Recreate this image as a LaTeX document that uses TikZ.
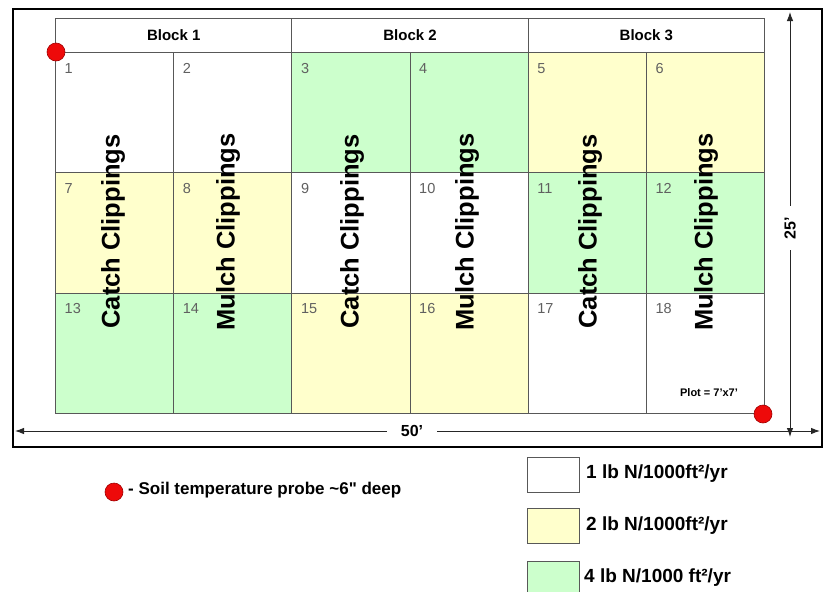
\documentclass[tikz,border=0pt]{standalone}
\usepackage{fontspec}
\setmainfont{Liberation Sans}
\usetikzlibrary{arrows.meta}

\definecolor{lowN}{HTML}{FFFFFF}
\definecolor{midN}{HTML}{FFFFCC}
\definecolor{highN}{HTML}{CCFFCC}
\definecolor{gridgray}{HTML}{585858}
\definecolor{numgray}{HTML}{606060}
\definecolor{probered}{HTML}{EE0A0A}
\definecolor{probedark}{HTML}{A00000}

\tikzset{
  plotcell/.style={draw=gridgray, line width=1.1pt, inner sep=0pt, anchor=north west,
                   minimum width=118.17pt, minimum height=120.33pt},
  blockhead/.style={draw=gridgray, fill=white, line width=1.1pt, inner sep=0pt, anchor=north west,
                    minimum width=236.33pt, minimum height=34pt,
                    font=\fontsize{15}{18}\selectfont\bfseries},
  plotnum/.style={anchor=north west, inner sep=0pt, text=numgray,
                  font=\fontsize{14.5}{17}\selectfont},
  treat/.style={rotate=90, inner sep=0pt, font=\fontsize{25.5}{30}\selectfont\bfseries},
  probe/.style={circle, fill=probered, draw=probedark, line width=0.6pt,
                minimum size=18pt, inner sep=0pt},
  dimline/.style={draw=black!85, line width=0.9pt,
                  {Latex[length=9pt,width=6.5pt]}-{Latex[length=9pt,width=6.5pt]}},
  dimlabel/.style={fill=white, inner sep=0pt, font=\fontsize{16}{19}\selectfont\bfseries},
  legbox/.style={draw=gridgray, line width=1.1pt, inner sep=0pt, anchor=north west,
                 minimum width=52pt, minimum height=35pt},
  legtext/.style={anchor=west, inner sep=0pt, font=\fontsize{19}{22}\selectfont\bfseries},
  frame/.style={draw=black, line width=2.6pt}
}

\begin{document}
\begin{tikzpicture}[x=1pt,y=-1pt]
\useasboundingbox (0,0) rectangle (823,592);
\fill[white] (0,0) rectangle (823,592);

% outer frame of the field
\draw[frame] (13,9) rectangle (822,447);

% the eighteen plots: number / column / row / nitrogen rate
\foreach \n/\col/\row/\clr in {
  1/0/0/lowN, 2/1/0/lowN, 3/2/0/highN, 4/3/0/highN, 5/4/0/midN, 6/5/0/midN,
  7/0/1/midN, 8/1/1/midN, 9/2/1/lowN, 10/3/1/lowN, 11/4/1/highN, 12/5/1/highN,
  13/0/2/highN, 14/1/2/highN, 15/2/2/midN, 16/3/2/midN, 17/4/2/lowN, 18/5/2/lowN}{
  \node[plotcell, fill=\clr] (p\n) at ({55+118.17*\col},{52+120.33*\row}) {};
  \node[plotnum] (n\n) at ([xshift=9.5pt,yshift=-11pt]p\n.north west) {\n};
}

% block headers
\node[blockhead] (b1) at (55,18) {Block 1};
\node[blockhead] (b2) at (291.33,18) {Block 2};
\node[blockhead] (b3) at (527.67,18) {Block 3};

% clipping treatments, running across the three rows
\node[treat] (t1) at (113,231.5) {Catch Clippings};
\node[treat] (t2) at (228,232) {Mulch Clippings};
\node[treat] (t3) at (352,231.5) {Catch Clippings};
\node[treat] (t4) at (467,232) {Mulch Clippings};
\node[treat] (t5) at (590,231.5) {Catch Clippings};
\node[treat] (t6) at (706,232) {Mulch Clippings};

% plot size note
\node[inner sep=0pt, font=\fontsize{11}{13}\selectfont\bfseries] (plotsize) at (709,393) {Plot = 7'x7'};

% soil temperature probes
\node[probe] (probeA) at (56,52) {};
\node[probe] (probeB) at (763,414) {};

% overall dimensions
\coordinate (wL) at (15,431);
\coordinate (wR) at (820,431);
\draw[dimline] (wL) -- (wR);
\node[dimlabel, minimum width=50pt, minimum height=16pt] (wlab) at (412,431) {50'};

\coordinate (hT) at (790,12);
\coordinate (hB) at (790,437);
\draw[dimline] (hT) -- (hB);
\node[dimlabel, rotate=90, minimum width=44pt, minimum height=16pt] (hlab) at (790,228) {25'};

% legend
\node[probe] (probeKey) at (114,492) {};
\node[anchor=west, inner sep=0pt, font=\fontsize{17}{20}\selectfont\bfseries] (probeText)
  at (128,490) {- Soil temperature probe \textasciitilde6\textquotedbl{} deep};

\node[legbox, fill=lowN] (leg1) at (527,457) {};
\node[legbox, fill=midN] (leg2) at (527,508) {};
\node[legbox, fill=highN] (leg3) at (527,561) {};
\node[legtext] (legt1) at (586,474) {1 lb N/1000ft²/yr};
\node[legtext] (legt2) at (586,526) {2 lb N/1000ft²/yr};
\node[legtext] (legt3) at (584,578) {4 lb N/1000 ft²/yr};
\end{tikzpicture}
\end{document}
